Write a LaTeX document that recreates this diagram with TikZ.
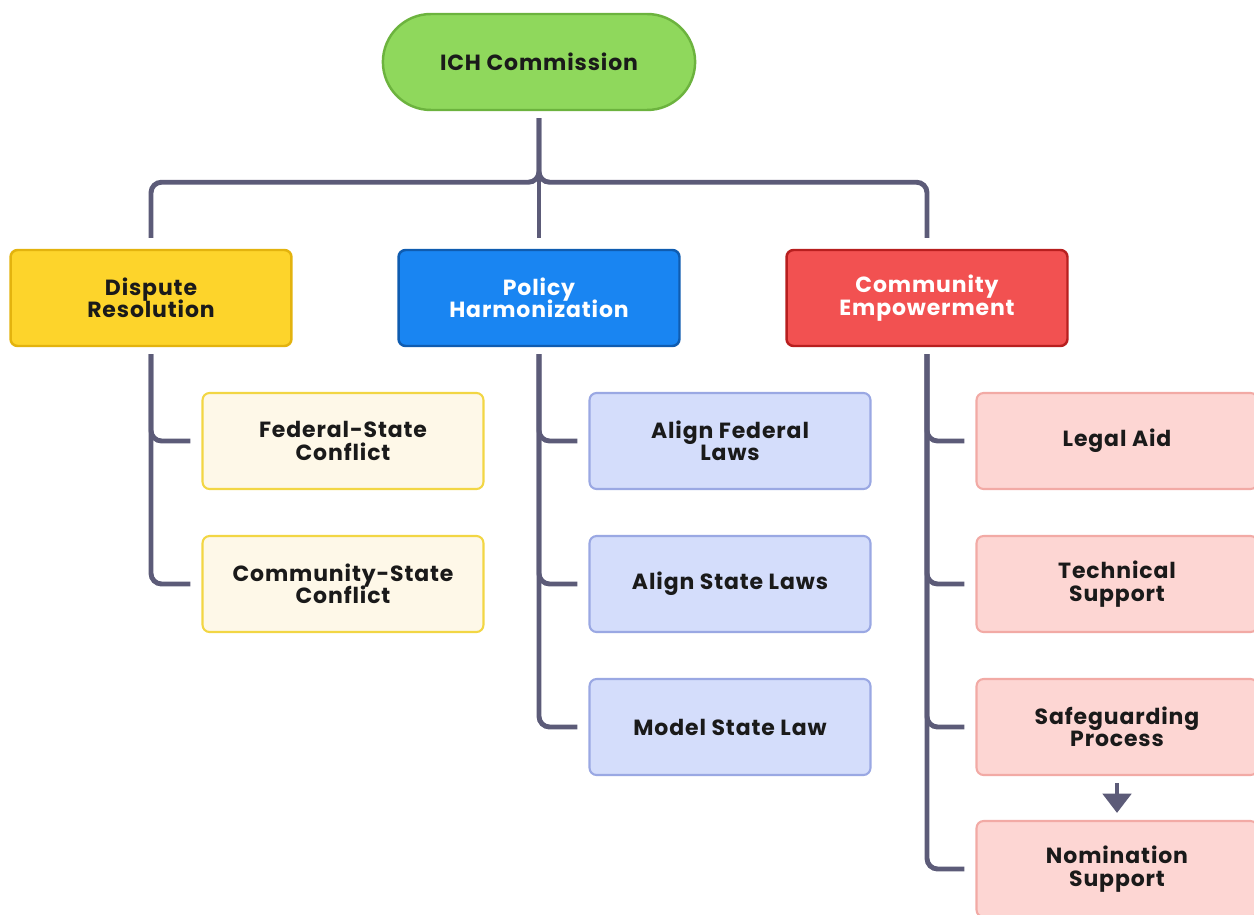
\documentclass[tikz,border=0pt]{standalone}
\usepackage{fontspec}
\setmainfont{Poppins}[LetterSpace=4]
\definecolor{ichgreen}{HTML}{8FD85C}
\definecolor{ichgreendk}{HTML}{6CB33E}
\definecolor{ichyellow}{HTML}{FDD42B}
\definecolor{ichyellowdk}{HTML}{E3B30E}
\definecolor{ichblue}{HTML}{1985F2}
\definecolor{ichbluedk}{HTML}{0F5CB0}
\definecolor{ichred}{HTML}{F25151}
\definecolor{ichreddk}{HTML}{B81F1F}
\definecolor{ichcream}{HTML}{FEF8E8}
\definecolor{ichcreamdk}{HTML}{F2D644}
\definecolor{ichlav}{HTML}{D4DDFB}
\definecolor{ichlavdk}{HTML}{9AA8E3}
\definecolor{ichpink}{HTML}{FDD6D3}
\definecolor{ichpinkdk}{HTML}{F2AAA5}
\definecolor{ichline}{HTML}{5C5B78}
\definecolor{ichtext}{HTML}{1A1A1A}
\usetikzlibrary{arrows.meta,positioning,calc,shapes.misc}
\newcommand\ichfont{\fontsize{12.5}{12.8}\selectfont\bfseries
  \lineskiplimit=-1em\relax\lineskip=0pt\relax}

\begin{document}
\begin{tikzpicture}[
  x=0.02cm, y=-0.02cm,
  topbox/.style={
    rectangle, rounded corners=4pt,
    minimum width=5.62cm, minimum height=1.92cm,
    line width=1.4pt, align=center,
    font=\ichfont
  },
  subbox/.style={
    topbox, line width=1.2pt, text=ichtext
  },
  link/.style={line width=2.8pt, draw=ichline, rounded corners=6pt,
    shorten <=0.14cm, shorten >=0.22cm},
  flow/.style={-{Triangle[length=11pt,width=16pt]}, line width=2.8pt, draw=ichline}
]
\useasboundingbox (0,0) rectangle (1254,915);
\clip (0,0) rectangle (1254,915);

\node[rounded rectangle, minimum width=6.48cm, minimum height=1.92cm,
  draw=ichgreendk, fill=ichgreen, line width=1.4pt, text=ichtext,
  font=\ichfont] (ich) at (539,62) {ICH Commission};

\node[topbox, fill=ichyellow, draw=ichyellowdk, text=ichtext] (dr) at (151,298) {Dispute\\Resolution};
\node[topbox, fill=ichblue, draw=ichbluedk, text=white]      (ph) at (539,298) {Policy\\Harmonization};
\node[topbox, fill=ichred, draw=ichreddk, text=white]        (ce) at (927,298) {Community\\Empowerment};

\node[subbox, fill=ichcream, draw=ichcreamdk] (fsc) at (343,441) {Federal-State\\Conflict};
\node[subbox, fill=ichcream, draw=ichcreamdk] (csc) at (343,584) {Community-State\\Conflict};

\node[subbox, fill=ichlav, draw=ichlavdk] (afl) at (730,441) {Align Federal\\Laws};
\node[subbox, fill=ichlav, draw=ichlavdk] (asl) at (730,584) {Align State Laws};
\node[subbox, fill=ichlav, draw=ichlavdk] (msl) at (730,727) {Model State Law};

\node[subbox, fill=ichpink, draw=ichpinkdk] (la) at (1117,441) {Legal Aid};
\node[subbox, fill=ichpink, draw=ichpinkdk] (ts) at (1117,584) {Technical\\Support};
\node[subbox, fill=ichpink, draw=ichpinkdk] (sp) at (1117,727) {Safeguarding\\Process};
\node[subbox, fill=ichpink, draw=ichpinkdk] (ns) at (1117,869) {Nomination\\Support};

% commission to the three areas
\draw[link] (ich.south) -- (ph.north);
\draw[link] (ich.south) -- ++(0,71) -| (dr.north);
\draw[link] (ich.south) -- ++(0,71) -| (ce.north);

% areas to their tasks
\draw[link] (dr.south) |- (fsc.west);
\draw[link] (dr.south) |- (csc.west);
\draw[link] (ph.south) |- (afl.west);
\draw[link] (ph.south) |- (asl.west);
\draw[link] (ph.south) |- (msl.west);
\draw[link] (ce.south) |- (la.west);
\draw[link] (ce.south) |- (ts.west);
\draw[link] (ce.south) |- (sp.west);
\draw[link] (ce.south) |- (ns.west);

\draw[flow, shorten <=0.14cm, shorten >=0.14cm] (sp.south) -- (ns.north);
\end{tikzpicture}
\end{document}
